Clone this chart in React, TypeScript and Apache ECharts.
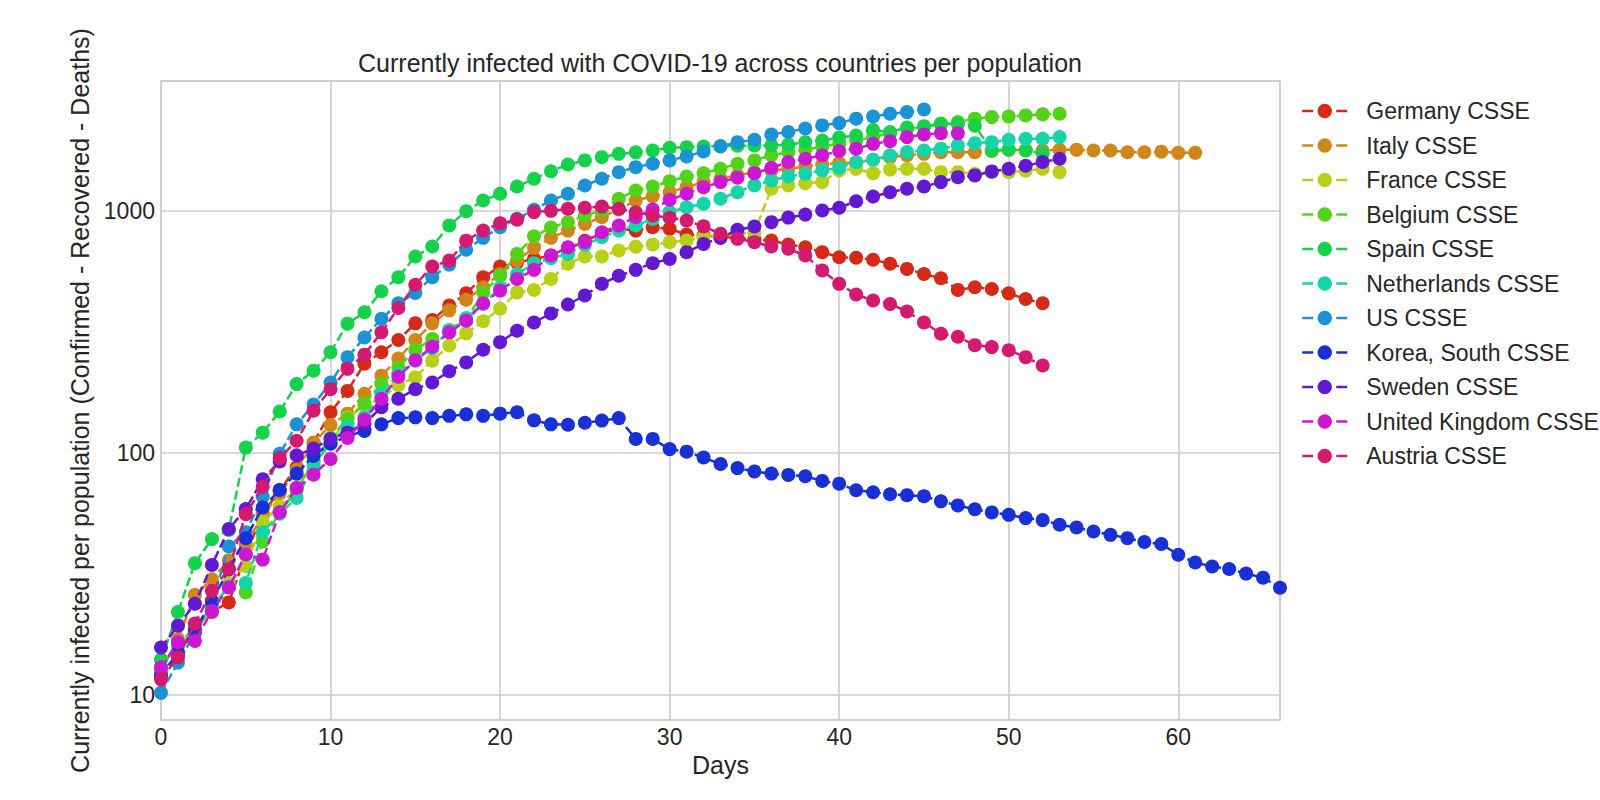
import { useEffect, useRef } from "react";
import * as echarts from "echarts";

// Valores por día (día 0 = primer día sobre el umbral)
const germany = [12, 14.5, 19.5, 22, 24.1, 38, 56, 70, 87, 110, 147, 180, 233, 260, 292, 342, 353, 405, 455, 530, 587, 610, 631, 652, 690, 750, 810, 840, 826, 853, 840, 796, 788, 780, 770, 760, 752, 724, 705, 673, 641, 638, 626, 603, 574, 547, 525, 470, 482, 474, 455, 431, 414];
const italy = [12.5, 17, 25.9, 30, 36, 42, 55, 68, 85, 110, 130, 145, 175, 208, 245, 292, 342, 387, 428, 482, 547, 621, 701, 771, 826, 881, 938, 1010, 1100, 1145, 1190, 1250, 1310, 1352, 1396, 1440, 1464, 1486, 1520, 1550, 1570, 1570, 1620, 1661, 1690, 1714, 1740, 1740, 1740, 1760, 1780, 1775, 1770, 1780, 1780, 1770, 1770, 1740, 1740, 1750, 1730, 1730];
const france = [12, 15, 18, 23, 29, 34, 52, 60, 72, 90, 110, 140, 155, 168, 190, 205, 240, 277, 311, 349, 393, 459, 470, 522, 603, 646, 646, 684, 709, 724, 740, 752, 776, 790, 800, 813, 1230, 1270, 1297, 1310, 1464, 1486, 1425, 1475, 1486, 1486, 1440, 1440, 1418, 1440, 1440, 1460, 1486, 1440];
const belgium = [13, 16, 19, 23, 28, 26.5, 43, 57, 70, 93, 115, 138, 160, 192, 225, 266, 295, 320, 353, 459, 538, 662, 782, 850, 895, 953, 1000, 1118, 1210, 1256, 1322, 1382, 1425, 1486, 1560, 1610, 1690, 1742, 1780, 1838, 1885, 1945, 2010, 2085, 2180, 2210, 2280, 2320, 2395, 2430, 2445, 2470, 2495, 2510];
const spain = [14, 22, 35, 44, 48, 105, 121, 148, 192, 218, 260, 341, 380, 464, 530, 646, 710, 867, 994, 1100, 1172, 1256, 1352, 1453, 1549, 1610, 1661, 1714, 1738, 1770, 1816, 1826, 1838, 1845, 1850, 1855, 1857, 1870, 1915, 1945, 2000, 2040, 2150, 2110, 2200, 2230, 2280, 2280, 2240, 1770, 1785, 1770, 1720];
const netherlands = [13, 16, 19, 23, 28, 29, 47, 56, 65, 88, 110, 128, 140, 175, 211, 240, 270, 320, 360, 411, 480, 547, 605, 635, 662, 720, 776, 826, 867, 924, 985, 1032, 1066, 1118, 1190, 1270, 1330, 1382, 1418, 1464, 1500, 1585, 1620, 1690, 1742, 1770, 1800, 1857, 1897, 1915, 1960, 1978, 1978, 2010];
const us = [10.2, 13.6, 18, 24, 41, 47, 66, 99, 131, 158, 195, 248, 299, 357, 414, 457, 530, 598, 689, 771, 853, 925, 1006, 1100, 1172, 1269, 1352, 1440, 1510, 1560, 1610, 1672, 1754, 1838, 1915, 1960, 2060, 2110, 2180, 2245, 2295, 2395, 2445, 2510, 2548, 2612];
const korea = [12, 15, 18.5, 24.4, 33, 44.4, 59.4, 70.2, 82, 97, 109, 117, 123, 131, 139, 140, 139, 142, 144, 142, 145, 147, 136, 131, 130.5, 133, 135.7, 139, 114, 114, 103.5, 101, 95.6, 89.8, 86.4, 83.7, 82, 81, 80, 76.5, 74.5, 70, 68.7, 67.4, 66.8, 66.1, 63, 60.6, 58.4, 56.7, 55.4, 53.7, 52.7, 50.4, 49.1, 47.3, 45.8, 44.4, 42.8, 42, 37.9, 35.2, 33.9, 33.1, 31.7, 30.5, 27.7];
const sweden = [15.7, 19.3, 23.8, 34.4, 48.4, 58.5, 77.7, 92, 97.6, 104, 114, 121, 132, 154, 167, 183, 195, 217, 236, 266, 286, 319, 345, 376, 409, 446, 498, 538, 569, 606, 631, 673, 728, 770, 832, 859, 895, 935, 962, 1000, 1026, 1092, 1142, 1190, 1230, 1256, 1310, 1373, 1396, 1450, 1486, 1530, 1585, 1636];
const uk = [13, 16.5, 16.7, 22.2, 27.8, 38, 36.2, 56.8, 71.5, 81.1, 94.3, 115, 137, 167, 206, 241, 274, 314, 351, 414, 467, 522, 569, 652, 705, 740, 813, 867, 940, 1010, 1107, 1172, 1248, 1310, 1365, 1425, 1500, 1585, 1636, 1690, 1760, 1800, 1885, 1933, 2010, 2060, 2085, 2085];
const austria = [11.6, 14.3, 19.7, 26.9, 33.1, 55.8, 72.4, 95, 112, 149, 183, 222, 254, 314, 396, 494, 587, 621, 751, 826, 886, 916, 985, 997, 1017, 1026, 1038, 1017, 984, 953, 933, 909, 860, 801, 764, 740, 710, 695, 652, 565, 498, 450, 425, 411, 383, 345, 310, 301, 278, 273, 265, 248, 229];

const countries = ["Germany CSSE", "Italy CSSE", "France CSSE", "Belgium CSSE", "Spain CSSE", "Netherlands CSSE", "US CSSE", "Korea, South CSSE", "Sweden CSSE", "United Kingdom CSSE", "Austria CSSE"];
const seriesValues = [germany, italy, france, belgium, spain, netherlands, us, korea, sweden, uk, austria];
const colors = ["#d62a18", "#d1861a", "#b9cf18", "#52d31a", "#16d24a", "#17d3a8", "#1a92d4", "#1830d4", "#6318d2", "#cc18d2", "#d31a70"];
const yTicks = [10, 100, 1000];

const FONT = "Liberation Sans, Arial, sans-serif";
const TEXT = "#262626";

export default function App() {
  const ref = useRef<HTMLDivElement>(null);

  useEffect(() => {
    if (!ref.current) return;
    const chart = echarts.init(ref.current, undefined, { renderer: "svg" });

    chart.setOption({
      animation: false,
      backgroundColor: "#ffffff",
      textStyle: { fontFamily: FONT, color: TEXT },
      title: {
        text: "Currently infected with COVID-19 across countries per population",
        left: 720,
        top: 50,
        textAlign: "center",
        padding: 0,
        textStyle: { fontFamily: FONT, fontSize: 25, fontWeight: "normal", color: TEXT },
      },
      grid: {
        left: 161, top: 81, width: 1119, height: 639,
        show: true, borderColor: "#cccccc", borderWidth: 1.6, backgroundColor: "transparent",
      },
      legend: {
        orient: "vertical",
        left: 1301, top: 99,
        padding: 0,
        itemWidth: 45, itemHeight: 18, itemGap: 10.5,
        lineStyle: { type: [11, 23], width: 2.5 },
        textStyle: { fontFamily: FONT, fontSize: 23, color: TEXT, lineHeight: 24, padding: [0, 0, 0, 14] },
        data: countries,
      },
      xAxis: {
        type: "value",
        min: 0, max: 66, interval: 10,
        name: "Days",
        nameLocation: "middle",
        nameGap: 30,
        nameTextStyle: { fontFamily: FONT, fontSize: 25, color: TEXT },
        axisLine: { show: false },
        axisTick: { show: false },
        axisLabel: { fontFamily: FONT, fontSize: 23, color: TEXT, margin: 5, showMaxLabel: false },
        splitLine: { lineStyle: { color: "#cccccc", width: 1.6 } },
      },
      yAxis: {
        type: "log",
        logBase: 10,
        min: 7.88, max: 3425,
        name: "Currently infected per population (Confirmed - Recovered - Deaths)",
        nameLocation: "middle",
        nameGap: 63,
        nameTextStyle: { fontFamily: FONT, fontSize: 25, color: TEXT },
        axisLine: { show: false },
        axisTick: { show: false },
        axisLabel: {
          fontFamily: FONT, fontSize: 23, color: TEXT, margin: 6,
          formatter: (v: number) => {
            const t = yTicks.find((k) => Math.abs(k - v) / k < 0.01);
            return t ? String(t) : "";
          },
        },
        splitLine: { lineStyle: { color: "#cccccc", width: 1.6 } },
      },
      series: seriesValues.map((vals, i) => ({
        name: countries[i],
        type: "line",
        z: 2 + i,
        data: vals.map((v, d) => [d, v]),
        symbol: "circle",
        symbolSize: 14,
        showSymbol: true,
        clip: true,
        itemStyle: { color: colors[i] },
        lineStyle: { color: colors[i], width: 2.5, type: [9, 4] },
      })),
    });

    const onResize = () => chart.resize();
    window.addEventListener("resize", onResize);
    return () => { window.removeEventListener("resize", onResize); chart.dispose(); };
  }, []);

  return <div ref={ref} style={{ position: "fixed", left: 0, top: 0, width: 1600, height: 800 }} />;
}
